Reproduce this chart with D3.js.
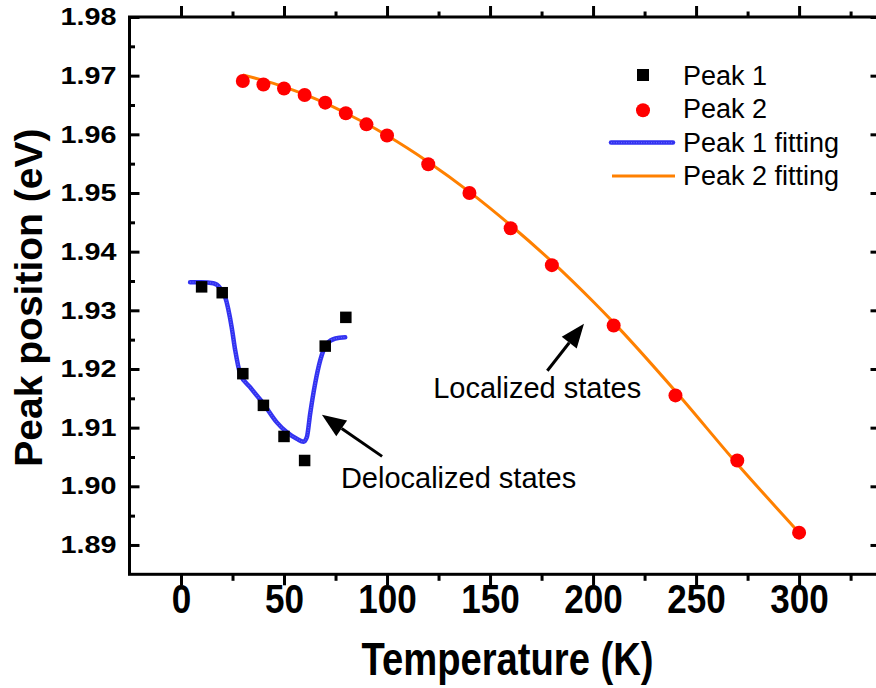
<!DOCTYPE html>
<html>
<head>
<meta charset="utf-8">
<script src="https://cdn.jsdelivr.net/npm/d3@7"></script>
<style>
  body { margin: 0; background: #fff; }
  svg { display: block; font-family: 'Liberation Sans', Arial, sans-serif; }
</style>
</head>
<body>
<div id="chart"></div>
<script>
// Peak 1 measured points
const peak1T = [10, 20, 30, 40, 50, 60, 70, 80]
const peak1E = [1.934, 1.933, 1.9192, 1.9138, 1.9085, 1.9044, 1.9239, 1.9288]

// Peak 2 measured points
const peak2T = [30, 40, 50, 60, 70, 80, 90, 100, 120, 140, 160, 180, 210, 240, 270, 300]
const peak2E = [1.9691, 1.9685, 1.9678, 1.9667, 1.9654, 1.9636, 1.9617, 1.9598,
  1.9549, 1.95, 1.944, 1.9377, 1.9274, 1.9155, 1.9044, 1.8921]

// fitting curves
const fit1T = [4.4, 10, 15.7, 19, 21.4, 24.6, 26.3, 28.7, 33.5, 40, 46.5, 51.4, 56.2,
  59.5, 61.1, 62.7, 65.1, 67.6, 70.8, 74.9, 79.7]
const fit1E = [1.9348, 1.9348, 1.9346, 1.9338, 1.9323, 1.9271, 1.9232, 1.9192, 1.9169,
  1.9141, 1.9109, 1.9092, 1.9081, 1.9076, 1.9084, 1.9124, 1.9175, 1.9215, 1.9243,
  1.9252, 1.9254]
const fit2T = [30, 40, 50, 60, 70, 80, 90, 100, 120, 140, 160, 180, 200, 210, 240, 270, 300]
const fit2E = [1.9701, 1.9692, 1.9681, 1.9668, 1.9653, 1.9636, 1.9618, 1.9598, 1.9553,
  1.9502, 1.9445, 1.9383, 1.9315, 1.9279, 1.9162, 1.9038, 1.8921]

// axis ticks
const xMajor = [0, 50, 100, 150, 200, 250, 300]
const xMinor = [25, 75, 125, 175, 225, 275, 325]
const yMajor = [1.89, 1.9, 1.91, 1.92, 1.93, 1.94, 1.95, 1.96, 1.97, 1.98]
const yMinor = [1.895, 1.905, 1.915, 1.925, 1.935, 1.945, 1.955, 1.965, 1.975]

const legendLabels = ['Peak 1', 'Peak 2', 'Peak 1 fitting', 'Peak 2 fitting']

// annotations, in data units
const notes = [
  { text: 'Localized states', T: 122.4, E: 1.915, from: [177.8, 1.9197], to: [195.6, 1.9277] },
  { text: 'Delocalized states', T: 77.6, E: 1.8997, from: [97.6, 1.9051], to: [68.4, 1.9122] },
]

const width = 876
const height = 688

const x = d3.scaleLinear().domain([-25, 340]).range([129.5, 881.5])
const y = d3.scaleLinear().domain([1.885, 1.98]).range([574.3, 17])

const svg = d3.select('#chart').append('svg')
  .attr('width', width).attr('height', height)
  .attr('viewBox', `0 0 ${width} ${height}`)

const [x0, x1] = x.range()
const [y0, y1] = y.range()

// ticks on all four sides, inward
const tickStyle = g => {
  g.select('.domain').remove()
  g.selectAll('.tick line').attr('stroke', '#000').attr('stroke-width', 3)
}
const addAxis = (axis, tf, values, size) => {
  svg.append('g').attr('transform', tf)
    .call(axis.tickValues(values).tickSize(size).tickFormat(''))
    .call(tickStyle)
}

addAxis(d3.axisLeft(y), `translate(${x0},0)`, yMinor, -5.5)
addAxis(d3.axisRight(y), `translate(${x1},0)`, yMinor, -5.5)
addAxis(d3.axisRight(y), `translate(${x1},0)`, yMajor, -11)
addAxis(d3.axisBottom(x), `translate(0,${y1})`, xMinor, -5.5)
addAxis(d3.axisBottom(x), `translate(0,${y1})`, xMajor, -11)
addAxis(d3.axisTop(x), `translate(0,${y0})`, xMinor, -6.5)

const yAxisG = svg.append('g').attr('transform', `translate(${x0},0)`)
  .call(d3.axisLeft(y).tickValues(yMajor).tickSize(-10).tickPadding(13)
    .tickFormat(d3.format('.2f')))
  .call(tickStyle)
yAxisG.selectAll('.tick text')
  .attr('fill', '#000')
  .style('font-size', '24px').style('font-weight', 'bold')
  .attr('textLength', 56).attr('lengthAdjust', 'spacingAndGlyphs')

const xAxisG = svg.append('g').attr('transform', `translate(0,${y0})`)
  .call(d3.axisTop(x).tickValues(xMajor).tickSize(-11).tickFormat(d3.format('d')))
  .call(tickStyle)
xAxisG.selectAll('.tick text')
  .attr('fill', '#000')
  .attr('y', 38.5).attr('dy', 0)
  .style('font-size', '40px').style('font-weight', 'bold')
  .attr('textLength', d => String(d).length * 19.5)
  .attr('lengthAdjust', 'spacingAndGlyphs')

// frame
svg.append('rect')
  .attr('x', x0).attr('y', y1)
  .attr('width', x1 - x0).attr('height', y0 - y1)
  .attr('fill', 'none').attr('stroke', '#000').attr('stroke-width', 3)

// axis titles
svg.append('text')
  .attr('x', 507.5).attr('y', 675)
  .attr('text-anchor', 'middle')
  .style('font-size', '47px').style('font-weight', 'bold')
  .attr('textLength', 292).attr('lengthAdjust', 'spacingAndGlyphs')
  .text('Temperature (K)')

svg.append('text')
  .attr('transform', `translate(42, ${(y0 + y1) / 2 + 2}) rotate(-90)`)
  .attr('text-anchor', 'middle')
  .style('font-size', '39px').style('font-weight', 'bold')
  .text('Peak position (eV)')

// fitting lines
const line = d3.line().x(d => x(d[0])).y(d => y(d[1])).curve(d3.curveMonotoneX)
const fit1 = fit1T.map((t, i) => [t, fit1E[i]])
const fit2 = fit2T.map((t, i) => [t, fit2E[i]])

// blue fit line has a hatched look in the original
const blueLine = (g, d) => {
  g.append('path').attr('d', d).attr('fill', 'none')
    .attr('stroke', '#1c1cf0').attr('stroke-width', 4.5).attr('opacity', 0.9)
    .attr('stroke-linecap', 'round')
  g.append('path').attr('d', d).attr('fill', 'none')
    .attr('stroke', '#8a8aff').attr('stroke-width', 1.2)
    .attr('stroke-dasharray', '1 1.5').attr('opacity', 0.6)
}
blueLine(svg.append('g'), line(fit1))

svg.append('path').attr('d', line(fit2)).attr('fill', 'none')
  .attr('stroke', '#ff8000').attr('stroke-width', 3)

// markers
const sq = 11.5
svg.append('g').selectAll('rect')
  .data(peak1T.map((t, i) => [t, peak1E[i]]))
  .join('rect')
  .attr('x', d => x(d[0]) - sq / 2).attr('y', d => y(d[1]) - sq / 2)
  .attr('width', sq).attr('height', sq).attr('fill', '#000')

svg.append('g').selectAll('circle')
  .data(peak2T.map((t, i) => [t, peak2E[i]]))
  .join('circle')
  .attr('cx', d => x(d[0])).attr('cy', d => y(d[1]))
  .attr('r', 7).attr('fill', '#ff0000')

// annotations
notes.forEach(n => {
  const tx = x(n.to[0]), ty = y(n.to[1])
  const fx = x(n.from[0]), fy = y(n.from[1])
  const ang = Math.atan2(ty - fy, tx - fx)
  const headLen = 24, headW = 9.5
  const bx = tx - headLen * Math.cos(ang), by = ty - headLen * Math.sin(ang)
  svg.append('line')
    .attr('x1', fx).attr('y1', fy).attr('x2', bx).attr('y2', by)
    .attr('stroke', '#000').attr('stroke-width', 3)
  const px = -Math.sin(ang), py = Math.cos(ang)
  svg.append('path')
    .attr('d', `M${tx},${ty}L${bx + px * headW},${by + py * headW}L${bx - px * headW},${by - py * headW}Z`)
    .attr('fill', '#000')
  svg.append('text')
    .attr('x', x(n.T)).attr('y', y(n.E))
    .style('font-size', '29px')
    .text(n.text)
})

// legend
const legend = svg.append('g').attr('transform', 'translate(683, 85)')
legendLabels.forEach((label, i) => {
  const row = legend.append('g').attr('transform', `translate(0, ${i * 33.3})`)
  row.append('text').attr('x', 0).attr('y', 0)
    .style('font-size', '27px')
    .text(label)
  const cy = -10
  if (i === 0) {
    row.append('rect').attr('x', -46).attr('y', cy - 6).attr('width', 12).attr('height', 12)
      .attr('fill', '#000')
  } else if (i === 1) {
    row.append('circle').attr('cx', -40).attr('cy', cy + 2).attr('r', 7).attr('fill', '#ff0000')
  } else if (i === 2) {
    blueLine(row, `M-72,${cy + 1}L-10,${cy + 1}`)
  } else {
    row.append('path').attr('d', `M-71,${cy + 1}L-8,${cy + 1}`)
      .attr('stroke', '#ff8000').attr('stroke-width', 3)
  }
})
</script>
</body>
</html>
